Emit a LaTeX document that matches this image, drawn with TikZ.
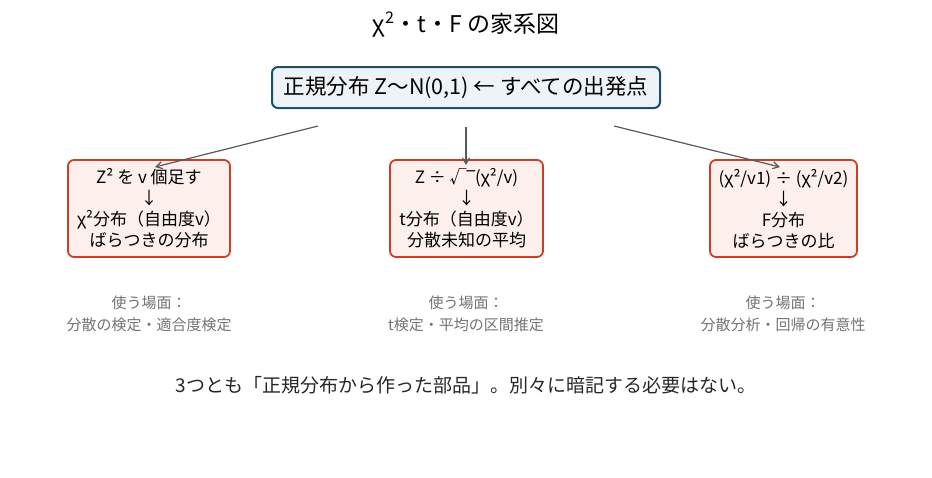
\documentclass[tikz,border=0pt]{standalone}
\usepackage{fontspec}
\setmainfont{Noto Sans CJK JP}
\newfontfamily\djv{DejaVu Sans}
\usetikzlibrary{arrows.meta}
\begin{document}
\begin{tikzpicture}[x=1pt,y=-1pt,
  top/.style={draw=topb,fill=topf,line width=2pt,rounded corners=6pt,minimum width=388pt,minimum height=41pt,font=\fontsize{21.5}{24}\selectfont,inner sep=0pt},
  dist/.style={draw=redb,fill=redf,line width=1.8pt,rounded corners=6pt,minimum height=97pt,font=\fontsize{17}{21}\selectfont,align=center,inner sep=0pt},
  note/.style={text=gray!90!black,font=\fontsize{15}{22}\selectfont,align=center},
  arr/.style={draw=black!65,line width=1.2pt,-{Straight Barb[length=6pt,width=7pt]}}]
\definecolor{topb}{HTML}{1F4E6B}\definecolor{topf}{HTML}{EEF3F7}
\definecolor{redb}{HTML}{C8402A}\definecolor{redf}{HTML}{FCEFEC}
\useasboundingbox (0,0) rectangle (932,477);
\node[font=\fontsize{23}{26}\selectfont] (title) at (466,25) {χ\textsuperscript{2}・t・F の家系図};
\node[top] (z) at (466,87.5) {正規分布 Z〜N(0,1) ← すべての出発点};
\node[dist,minimum width=162pt] (a) at (149,208.5) {Z² を v 個足す\\↓\\χ²分布（自由度v）\\ ばらつきの分布};
\node[dist,minimum width=153pt] (b) at (466.5,208.5) {Z ÷ √{\djv ‾}(χ²/v)\\↓\\t分布（自由度v）\\ 分散未知の平均};
\node[dist,minimum width=147pt] (c) at (783.5,208.5) {(χ²/v1) ÷ (χ²/v2)\\↓\\F分布\\ばらつきの比};
\coordinate (s1) at (318,126); \coordinate (e1) at (155,167);
\coordinate (s2) at (466,127); \coordinate (e2) at (466,165);
\coordinate (s3) at (614,126); \coordinate (e3) at (780,167);
\draw[arr] (s1)--(e1);
\draw[arr] (s2)--(e2);
\draw[arr] (s3)--(e3);
\node[note] (n1) at (149,314) {使う場面：\\分散の検定・適合度検定};
\node[note] (n2) at (466,314) {使う場面：\\t検定・平均の区間推定};
\node[note] (n3) at (783,314) {使う場面：\\分散分析・回帰の有意性};
\node[font=\fontsize{19}{22}\selectfont,text=black!85] (foot) at (466,385) {3つとも「正規分布から作った部品」。別々に暗記する必要はない。};
\end{tikzpicture}
\end{document}
